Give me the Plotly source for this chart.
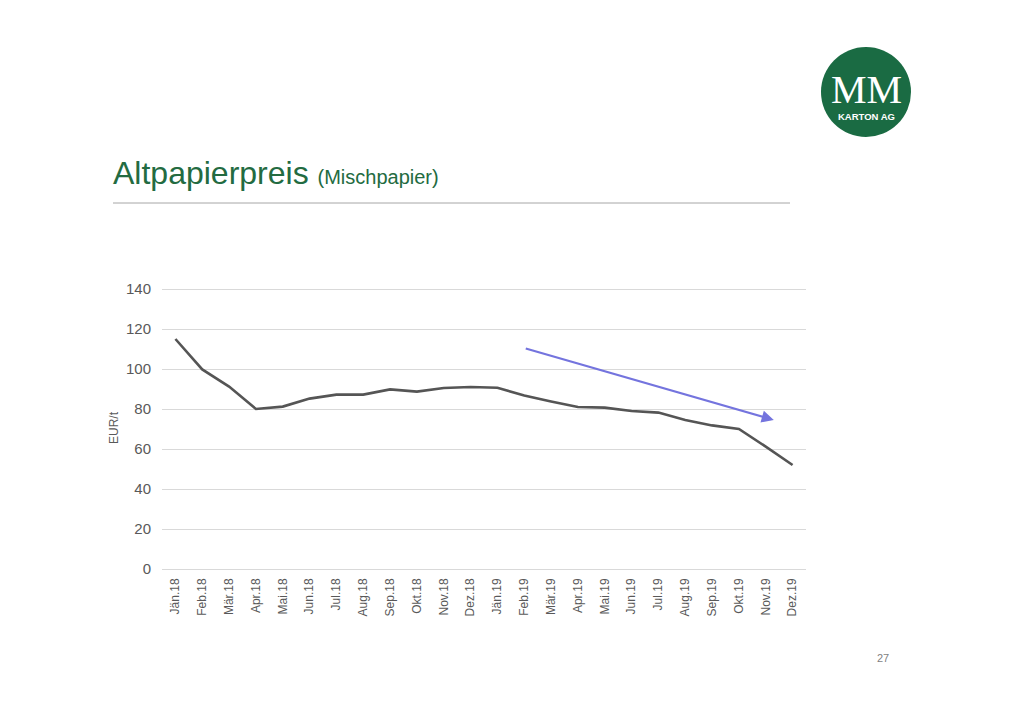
import plotly.graph_objects as go

# ---- data ----
months = ["Jän.18", "Feb.18", "Mär.18", "Apr.18", "Mai.18", "Jun.18", "Jul.18", "Aug.18",
          "Sep.18", "Okt.18", "Nov.18", "Dez.18", "Jän.19", "Feb.19", "Mär.19", "Apr.19",
          "Mai.19", "Jun.19", "Jul.19", "Aug.19", "Sep.19", "Okt.19", "Nov.19", "Dez.19"]
price = [115, 99.8, 91.2, 80, 81.2, 85.2, 87.2, 87.2, 89.8, 88.7, 90.5, 91, 90.6,
         86.7, 83.7, 81, 80.7, 79, 78.2, 74.5, 71.8, 70, 61.2, 52]
y_ticks = [0, 20, 40, 60, 80, 100, 120, 140]

# trend arrow (category index / value)
arrow_start = (13, 110.5)
arrow_end = (22.3, 74.5)

W, H = 1024, 724
OFF = 8  # page offset of the figure in the screenshot
Y_MAX = 141
# plot area in screenshot pixels
L, R, B = 162, 806, 569
T = B - 2.0 * Y_MAX  # 2 px per unit

def px(x):
    return (x - L) / (R - L)

def py(y):
    return (B - y) / (B - T)

FONT = "Liberation Sans, Arial, sans-serif"
GREEN = "#236b41"
TXT = "#595959"

fig = go.Figure()
fig.add_trace(go.Scatter(
    x=months, y=price, mode="lines",
    line=dict(color="#555555", width=2.6),
    hoverinfo="x+y", showlegend=False,
))

fig.update_layout(
    width=W, height=H,
    margin=dict(l=L - OFF, r=W - (R - OFF), t=T - OFF, b=H - (B - OFF), pad=0),
    paper_bgcolor="white", plot_bgcolor="white",
    font=dict(family=FONT, color=TXT),
    xaxis=dict(
        type="category", range=[-0.5, 23.5],
        showgrid=False, zeroline=False, showline=False,
        tickangle=-90, tickfont=dict(size=12, color=TXT, family=FONT),
        ticks="", ticklabelstandoff=6,
    ),
    yaxis=dict(
        range=[0, Y_MAX], tickvals=y_ticks,
        showgrid=True, gridcolor="#d9d9d9", gridwidth=1,
        zeroline=True, zerolinecolor="#d9d9d9", zerolinewidth=1,
        showline=False, ticks="",
        tickfont=dict(size=15, color=TXT, family=FONT),
        ticklabelstandoff=10,
        title=dict(text="EUR/t", font=dict(size=12, color=TXT, family=FONT), standoff=4),
    ),
)

# trend arrow
fig.add_annotation(
    x=arrow_end[0], y=arrow_end[1], ax=arrow_start[0], ay=arrow_start[1],
    xref="x", yref="y", axref="x", ayref="y",
    text="", showarrow=True, arrowhead=2, arrowsize=1.1,
    arrowwidth=2.2, arrowcolor="#7474de",
)

# title
fig.add_annotation(
    x=px(111), y=py(173), xref="paper", yref="paper", xanchor="left", yanchor="middle",
    text="Altpapierpreis <span style='font-size:20px'>(Mischpapier)</span>",
    showarrow=False, font=dict(size=32, color=GREEN, family=FONT),
)
# rule under title
fig.add_shape(type="line", xref="paper", yref="paper",
              x0=px(113), x1=px(790), y0=py(203), y1=py(203),
              line=dict(color="#a6a6a6", width=1))

# logo
fig.add_shape(type="circle", xref="paper", yref="paper",
              x0=px(821), x1=px(911), y0=py(137), y1=py(47),
              fillcolor="#1a6b43", line=dict(width=0))
fig.add_annotation(
    x=px(866), y=py(90), xref="paper", yref="paper", xanchor="center", yanchor="middle",
    text="MM", showarrow=False,
    font=dict(size=40, color="white", family="Liberation Serif, DejaVu Serif, serif"),
)
fig.add_annotation(
    x=px(866), y=py(117), xref="paper", yref="paper", xanchor="center", yanchor="middle",
    text="<b>KARTON AG</b>", showarrow=False,
    font=dict(size=9.5, color="white", family=FONT),
)

# page number
fig.add_annotation(
    x=px(883), y=py(658), xref="paper", yref="paper", xanchor="center", yanchor="middle",
    text="27", showarrow=False, font=dict(size=11, color="#7f7f7f", family=FONT),
)

fig.write_html("out.html")
